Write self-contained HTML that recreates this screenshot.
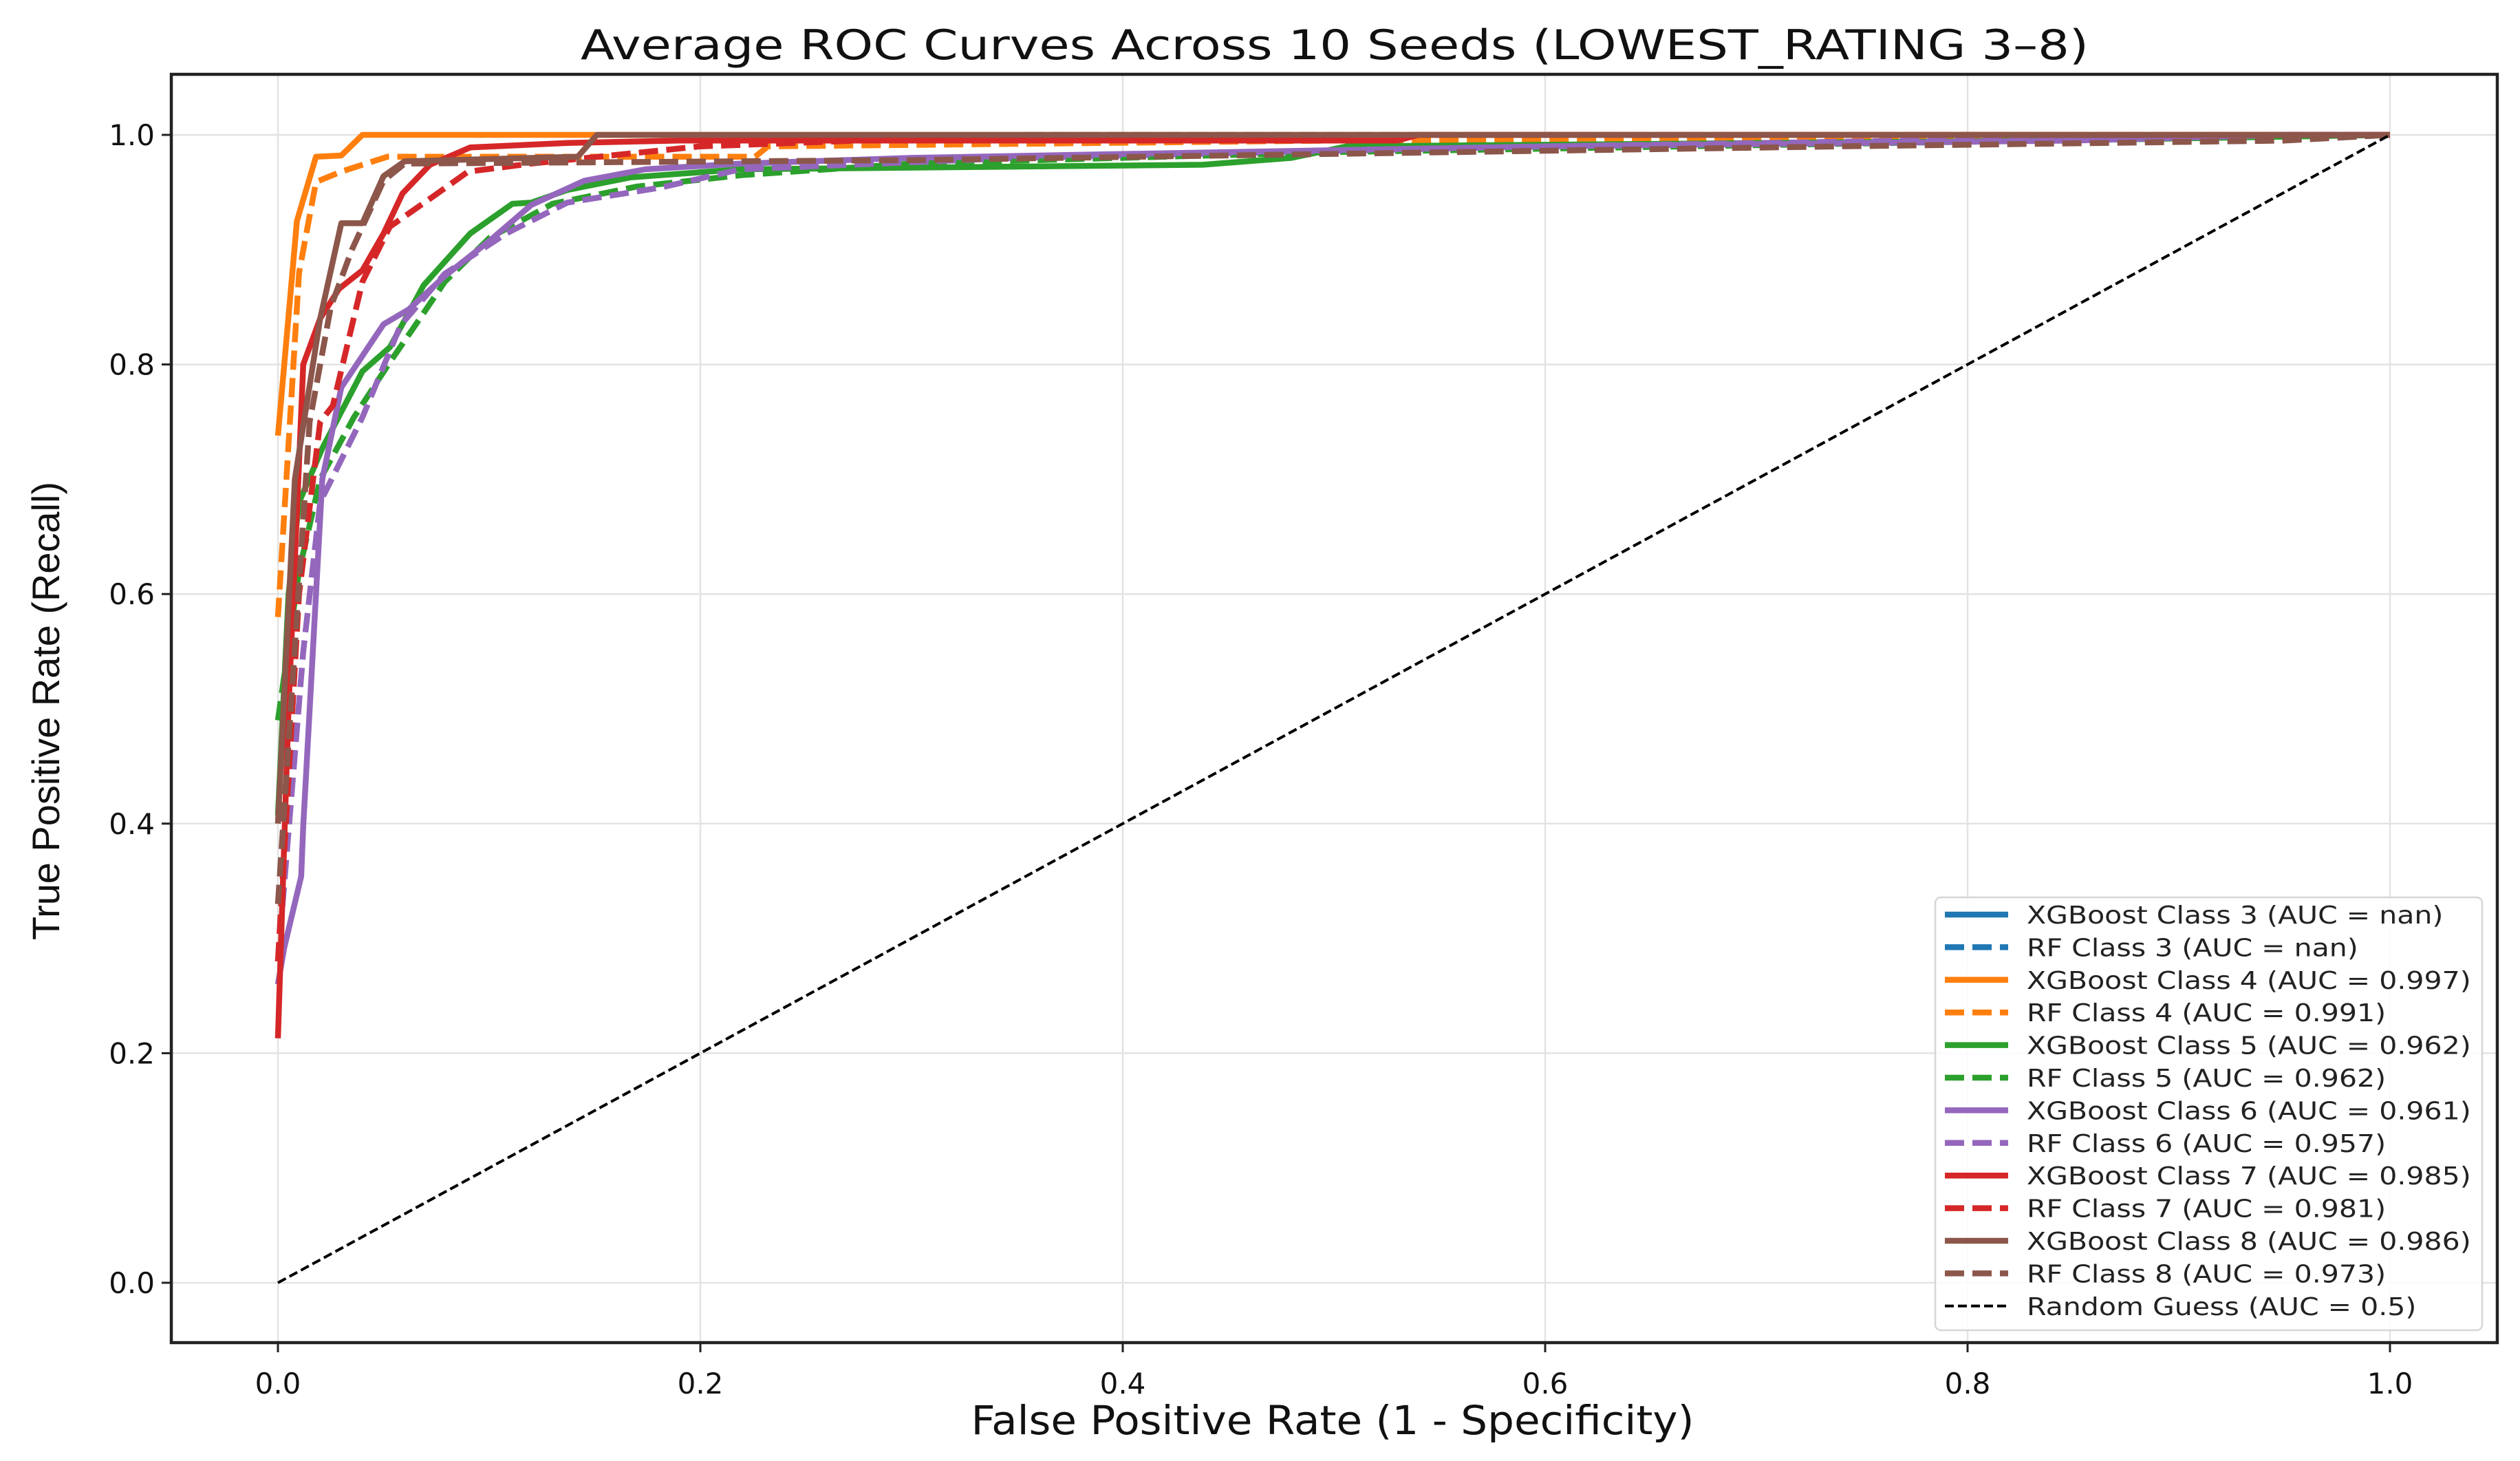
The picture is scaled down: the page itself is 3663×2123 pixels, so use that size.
<!DOCTYPE html>
<html><head><meta charset="utf-8"><style>
html,body{margin:0;padding:0;background:#fff;}
svg{display:block;font-family:"DejaVu Sans","Liberation Sans",sans-serif;}
</style></head><body>
<svg id="chart" xmlns="http://www.w3.org/2000/svg" width="3663" height="2123" viewBox="0 0 3663 2123">
<rect width="3663" height="2123" fill="#fff"/>
<text x="1940" y="86" text-anchor="middle" font-size="60" fill="#111" textLength="2192" lengthAdjust="spacingAndGlyphs">Average ROC Curves Across 10 Seeds (LOWEST_RATING 3–8)</text>
<text x="1937" y="2084" text-anchor="middle" font-size="58" fill="#111" textLength="1051" lengthAdjust="spacingAndGlyphs">False Positive Rate (1 - Specificity)</text>
<text transform="translate(86,1033) rotate(-90)" text-anchor="middle" font-size="56" fill="#111" font-family="Liberation Sans, sans-serif" textLength="666" lengthAdjust="spacingAndGlyphs">True Positive Rate (Recall)</text>
<g id="grid"></g><g id="curves"></g><g id="axes"></g><g id="legend"></g>
</svg>
<script>
const xTicks=[0,0.2,0.4,0.6,0.8,1.0];
const yTicks=[0,0.2,0.4,0.6,0.8,1.0];
const tickLabels=["0.0","0.2","0.4","0.6","0.8","1.0"];
const seriesNames=["XGBoost Class 3 (AUC = nan)","RF Class 3 (AUC = nan)","XGBoost Class 4 (AUC = 0.997)","RF Class 4 (AUC = 0.991)","XGBoost Class 5 (AUC = 0.962)","RF Class 5 (AUC = 0.962)","XGBoost Class 6 (AUC = 0.961)","RF Class 6 (AUC = 0.957)","XGBoost Class 7 (AUC = 0.985)","RF Class 7 (AUC = 0.981)","XGBoost Class 8 (AUC = 0.986)","RF Class 8 (AUC = 0.973)","Random Guess (AUC = 0.5)"];
const seriesColors=["#1f77b4","#1f77b4","#ff7f0e","#ff7f0e","#2ca02c","#2ca02c","#9467bd","#9467bd","#d62728","#d62728","#8c564b","#8c564b","#000"];
const seriesDashed=[false,true,false,true,false,true,false,true,false,true,false,true,true];
const xgb3FPR=[],xgb3TPR=[],rf3FPR=[],rf3TPR=[];
const xgb4FPR=[0,0.003,0.009,0.018,0.030,0.040,1];
const xgb4TPR=[0.738,0.80,0.925,0.981,0.982,1.0,1.0];
const rf4FPR=[0,0.004,0.010,0.018,0.030,0.040,0.052,0.226,0.232,0.5,1];
const rf4TPR=[0.58,0.70,0.88,0.959,0.968,0.974,0.981,0.981,0.99,0.995,1.0];
const xgb5FPR=[0,0.005,0.010,0.021,0.040,0.053,0.069,0.091,0.111,0.120,0.137,0.167,0.219,0.438,0.48,0.506,0.84,1];
const xgb5TPR=[0.407,0.60,0.68,0.727,0.794,0.815,0.869,0.914,0.940,0.941,0.952,0.963,0.970,0.974,0.98,0.99,0.995,1.0];
const rf5FPR=[0,0.010,0.020,0.036,0.053,0.065,0.079,0.100,0.130,0.170,0.220,0.300,0.500,1];
const rf5TPR=[0.49,0.62,0.70,0.754,0.802,0.834,0.872,0.910,0.940,0.955,0.965,0.975,0.985,1.0];
const xgb6FPR=[0,0.003,0.011,0.012,0.021,0.030,0.050,0.062,0.079,0.101,0.120,0.145,0.174,0.219,0.30,0.45,0.60,0.85,0.95,1];
const xgb6TPR=[0.26,0.292,0.354,0.398,0.70,0.78,0.835,0.848,0.877,0.909,0.939,0.960,0.970,0.975,0.98,0.985,0.99,0.995,1.0,1.0];
const rf6FPR=[0,0.012,0.020,0.040,0.058,0.079,0.108,0.137,0.181,0.219,0.35,0.60,0.95,1];
const rf6TPR=[0.28,0.55,0.68,0.754,0.834,0.879,0.914,0.941,0.954,0.970,0.98,0.99,1.0,1.0];
const xgb7FPR=[0,0.005,0.012,0.020,0.029,0.040,0.050,0.059,0.072,0.091,0.137,0.19,0.53,0.54,1];
const xgb7TPR=[0.213,0.50,0.80,0.84,0.866,0.882,0.914,0.949,0.974,0.989,0.993,0.995,0.995,1.0,1.0];
const rf7FPR=[0,0.010,0.020,0.026,0.040,0.053,0.074,0.090,0.120,0.200,0.35,1];
const rf7TPR=[0.28,0.60,0.75,0.764,0.872,0.920,0.947,0.968,0.975,0.99,1.0,1.0];
const xgb8FPR=[0,0.008,0.020,0.030,0.040,0.050,0.060,0.142,0.151,1];
const xgb8TPR=[0.40,0.70,0.84,0.923,0.923,0.964,0.977,0.981,1.0,1.0];
const rf8FPR=[0,0.015,0.025,0.035,0.050,0.060,0.30,0.74,0.95,1];
const rf8TPR=[0.33,0.75,0.85,0.90,0.96,0.975,0.978,0.99,0.995,1.0];
const randFPR=[0,1];
const randTPR=[0,1];
const seriesX=[xgb3FPR,rf3FPR,xgb4FPR,rf4FPR,xgb5FPR,rf5FPR,xgb6FPR,rf6FPR,xgb7FPR,rf7FPR,xgb8FPR,rf8FPR,randFPR];
const seriesY=[xgb3TPR,rf3TPR,xgb4TPR,rf4TPR,xgb5TPR,rf5TPR,xgb6TPR,rf6TPR,xgb7TPR,rf7TPR,xgb8TPR,rf8TPR,randTPR];

const NS="http://www.w3.org/2000/svg";
const X0=404,X1=3474,Y0=1864,Y1=196;
const BL=249,BR=3630,BT=108,BB=1951;
function sx(v){return X0+v*(X1-X0);}
function sy(v){return Y0-v*(Y0-Y1);}
function mk(tag,attrs,parent){const e=document.createElementNS(NS,tag);for(const k in attrs)e.setAttribute(k,attrs[k]);parent.appendChild(e);return e;}
const grid=document.getElementById('grid'),curves=document.getElementById('curves'),axes=document.getElementById('axes'),legend=document.getElementById('legend');

xTicks.forEach((t,i)=>{
  const g=mk('line',{x1:sx(t),x2:sx(t),y1:BT,y2:BB,stroke:'#e3e3e3','stroke-width':2.5},grid);
  
  
  const tk=mk('line',{x1:sx(t),x2:sx(t),y1:BB,y2:BB+14,stroke:'#222','stroke-width':3},axes);
  
  
  const lb=mk('text',{x:sx(t),y:BB+74,'text-anchor':'middle','font-size':42,fill:'#111'},axes);
  lb.textContent=tickLabels[i];
  
  
});
yTicks.forEach((t,i)=>{
  const g=mk('line',{x1:BL,x2:BR,y1:sy(t),y2:sy(t),stroke:'#e3e3e3','stroke-width':2.5},grid);
  
  
  const tk=mk('line',{x1:BL-14,x2:BL,y1:sy(t),y2:sy(t),stroke:'#222','stroke-width':3},axes);
  
  
  const lb=mk('text',{x:BL-24,y:sy(t)+15,'text-anchor':'end','font-size':42,fill:'#111'},axes);
  lb.textContent=tickLabels[i];
  
  
});
const frame=mk('rect',{x:BL,y:BT,width:BR-BL,height:BB-BT,fill:'none',stroke:'#222','stroke-width':4.5},axes);



seriesNames.forEach((name,i)=>{
  const xs=seriesX[i],ys=seriesY[i];
  const isRand=i===seriesNames.length-1;
  const w=isRand?4:8.5;
  const dash=seriesDashed[i]?(isRand?'13,6':'28,12'):'none';
  if(xs.length){
    const pts=xs.map((x,k)=>sx(x).toFixed(1)+','+sy(ys[k]).toFixed(1)).join(' ');
    const p=mk('polyline',{points:pts,fill:'none',stroke:seriesColors[i],'stroke-width':w,'stroke-dasharray':dash,'stroke-linejoin':'round'},curves);
    
    
  }
});

const LX=2813,LY=1304,LW=795,LH=629,RH=47.4;
const lbox=mk('rect',{x:LX,y:LY,width:LW,height:LH,rx:8,fill:'#fff','fill-opacity':0.85,stroke:'#d6d6d6','stroke-width':2.5},legend);


seriesNames.forEach((name,i)=>{
  const cy=LY+25+i*RH;
  const isRand=i===seriesNames.length-1;
  const h=mk('line',{x1:2827,x2:2919,y1:cy,y2:cy,stroke:seriesColors[i],'stroke-width':isRand?4:8.5,'stroke-dasharray':seriesDashed[i]?(isRand?'13,6':'28,12'):'none'},legend);
  
  
  const t=mk('text',{x:2946,y:cy+13,'font-size':36,fill:'#222'},legend);
  t.textContent=name;
  
  
  const len=t.getComputedTextLength();
  if(len>0){t.setAttribute('textLength',(len*1.14).toFixed(1));t.setAttribute('lengthAdjust','spacingAndGlyphs');}
});
</script>
</body></html>
